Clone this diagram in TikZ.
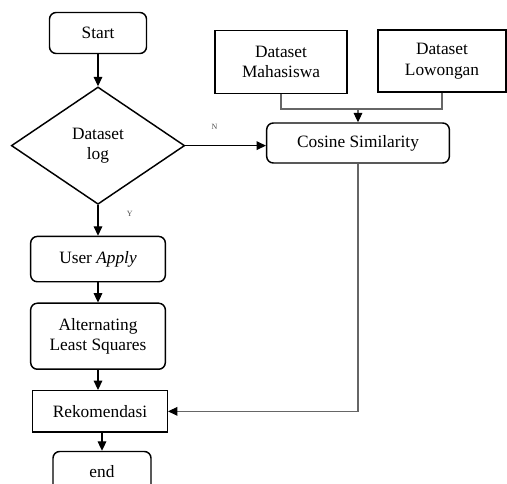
\documentclass[tikz,border=0pt]{standalone}
\usepackage{fontspec}
\setmainfont{Liberation Serif}
\usetikzlibrary{shapes.geometric, arrows.meta, positioning}

\begin{document}
\begin{tikzpicture}[
    x=0.75pt, y=-0.75pt,
    font=\fontsize{13}{15.5}\selectfont,
    proc/.style={rectangle, rounded corners=5pt, draw, line width=1.1pt, minimum width=101pt, align=center, inner sep=2pt},
    datas/.style={rectangle, draw, line width=1.1pt, align=center, inner sep=2pt},
    decision/.style={diamond, draw, line width=1.1pt, minimum width=130pt, minimum height=88pt, inner sep=0pt, align=center},
    flow/.style={-{Triangle[length=7pt, width=6.5pt, color=black]}, line width=0.8pt},
    link/.style={draw=black!60, line width=0.8pt},
    lbl/.style={font=\fontsize{6}{7}\selectfont, text=black!70}
]

\useasboundingbox (0,0) rectangle (507,484);

\node[proc, minimum width=72.75pt, minimum height=30.75pt] (start) at (98,33) {Start};
\node[decision, below=24pt of start] (dlog) {Dataset\\log};
\node[proc, below=23pt of dlog, minimum height=34pt] (apply) {User \textit{Apply}};
\node[proc, below=15pt of apply, minimum height=49.5pt] (als) {Alternating\\Least Squares};
\node[datas, below=15pt of als, xshift=1.5pt, minimum width=101pt, minimum height=31pt] (rek) {Rekomendasi};
\node[proc, below=13.5pt of rek, xshift=1.5pt, minimum width=73.5pt, minimum height=30pt] (finish) {end};

\node[datas, minimum width=99pt, minimum height=47pt] (mhs) at (281,62) {Dataset\\Mahasiswa};
\node[datas, minimum width=96pt, minimum height=46.5pt] (low) at (442,61) {Dataset\\Lowongan};
\node[proc, minimum width=137pt, minimum height=30pt] (cos) at (358,143) {Cosine Similarity};
\coordinate (merge) at (cos.north |- 0,109);

\draw[flow] (start) -- (dlog);
\draw[flow] (dlog) -- node[lbl, pos=0.3, right=18pt] {Y} (apply);
\draw[flow] (dlog.east) -- node[lbl, pos=0.36, above=8pt] {N} (dlog.east -| cos.west);
\draw[flow] (apply) -- (als);
\draw[flow] (als.south) -- (als.south |- rek.north);
\draw[flow] (rek.south -| finish.north) -- (finish);

\draw[link] (mhs.south) |- (merge);
\draw[link] (low.south) |- (merge);
\draw[flow, draw=black!60] (merge) -- (cos.north);
\draw[flow, draw=black!60] (cos.south) |- (rek.east);

\end{tikzpicture}
\end{document}
